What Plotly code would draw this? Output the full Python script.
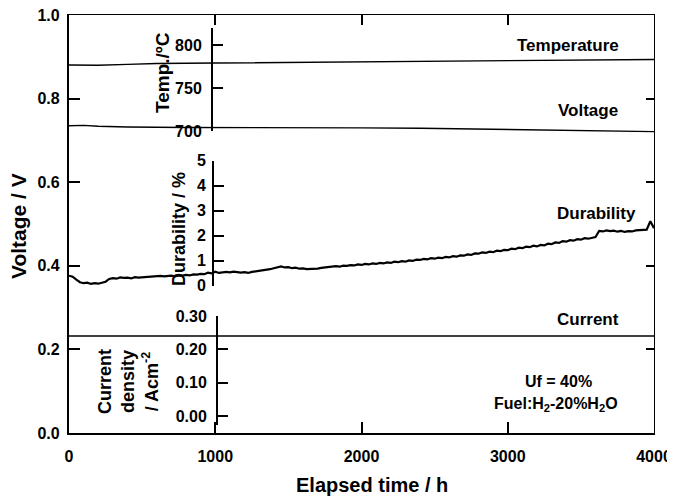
import plotly.graph_objects as go

# ---------------- data ----------------
hours_v = [0, 100, 200, 400, 800, 1200, 1600, 2000, 2400, 2800, 3200, 3600, 4000]
voltage = [0.735, 0.736, 0.734, 0.732, 0.731, 0.731, 0.731, 0.730, 0.729, 0.727, 0.725, 0.723, 0.721]

hours_t = [0, 200, 400, 600, 1000, 1400, 1800, 2200, 2600, 3000, 3400, 3800, 4000]
temperature = [776.8, 776.5, 777.5, 778.5, 779.0, 779.5, 780.0, 780.5, 781.0, 781.8, 782.5, 783.0, 783.2]

hours_c = [0, 1000, 2000, 3000, 4000]
current = [0.24, 0.24, 0.24, 0.24, 0.24]

hours_d = list(range(0, 4001, 25))
durability = [
    0.40, 0.36, 0.24, 0.14, 0.10, 0.12, 0.07, 0.10, 0.08, 0.13,
    0.16, 0.27, 0.30, 0.28, 0.33, 0.31, 0.32, 0.29, 0.34, 0.32,
    0.33, 0.36, 0.34, 0.37, 0.36, 0.39, 0.37, 0.38, 0.40, 0.37,
    0.41, 0.40, 0.43, 0.41, 0.45, 0.44, 0.47, 0.46, 0.52, 0.49,
    0.56, 0.51, 0.53, 0.55, 0.53, 0.56, 0.54, 0.52, 0.54, 0.51,
    0.55, 0.57, 0.61, 0.60, 0.64, 0.66, 0.70, 0.74, 0.77, 0.73,
    0.74, 0.70, 0.72, 0.68, 0.69, 0.66, 0.67, 0.65, 0.68, 0.71,
    0.73, 0.76, 0.75, 0.78, 0.76, 0.80, 0.79, 0.82, 0.81, 0.85,
    0.83, 0.87, 0.85, 0.89, 0.87, 0.91, 0.89, 0.93, 0.91, 0.96,
    0.94, 0.98, 0.96, 1.01, 0.99, 1.04, 1.03, 1.07, 1.05, 1.10,
    1.08, 1.12, 1.10, 1.15, 1.13, 1.18, 1.16, 1.21, 1.20, 1.25,
    1.23, 1.29, 1.28, 1.33, 1.31, 1.36, 1.34, 1.40, 1.38, 1.43,
    1.42, 1.48, 1.46, 1.52, 1.50, 1.56, 1.54, 1.60, 1.57, 1.63,
    1.61, 1.68, 1.66, 1.73, 1.71, 1.78, 1.76, 1.82, 1.80, 1.86,
    1.84, 1.90, 1.88, 1.93, 1.95, 2.19, 2.17, 2.21, 2.18, 2.20,
    2.16, 2.19, 2.15, 2.18, 2.17, 2.21, 2.22, 2.26, 2.24, 2.58,
    2.30,
]

x_ticks = [0, 1000, 2000, 3000, 4000]
v_ticks = [0.0, 0.2, 0.4, 0.6, 0.8, 1.0]
t_ticks = [700, 750, 800]
d_ticks = [0, 1, 2, 3, 4, 5]
c_ticks = [0.00, 0.10, 0.20, 0.30]

# ---------------- layout geometry (page pixels) ----------------
OFF = 8                       # default page body margin
W, H = 675 - OFF, 496 - OFF   # figure size
PL, PR, PT, PB = 69, 654, 15, 433   # plot area in page pixels
L, T = PL - OFF, PT - OFF
R, B = W - (PR - OFF), H - (PB - OFF)
PW, PH = PR - PL, PB - PT


def px(xp):
    return (xp - PL) / PW


def py(yp):
    return (PB - yp) / PH


FONT = "Liberation Sans, Arial, sans-serif"
BLACK = "#000000"

fig = go.Figure()

line_style = dict(color=BLACK, width=1.4)
fig.add_trace(go.Scatter(x=hours_t, y=temperature, mode="lines", line=line_style,
                         xaxis="x", yaxis="y3", hoverinfo="skip"))
fig.add_trace(go.Scatter(x=hours_v, y=voltage, mode="lines", line=line_style,
                         xaxis="x", yaxis="y", hoverinfo="skip"))
fig.add_trace(go.Scatter(x=hours_d, y=durability, mode="lines",
                         line=dict(color=BLACK, width=2.2),
                         xaxis="x", yaxis="y4", hoverinfo="skip"))
fig.add_trace(go.Scatter(x=hours_c, y=current, mode="lines", line=line_style,
                         xaxis="x", yaxis="y5", hoverinfo="skip"))
# invisible trace to activate the mirrored (top/right) frame axes
fig.add_trace(go.Scatter(x=hours_c[:1], y=voltage[:1], mode="markers",
                         marker=dict(opacity=0), xaxis="x2", yaxis="y2",
                         hoverinfo="skip"))

tickfont = dict(family=FONT, size=16, color=BLACK, weight="bold")

common = dict(showgrid=False, zeroline=False, showline=True, linecolor=BLACK,
              ticks="inside", tickcolor=BLACK, automargin=False,
              ticklabeloverflow="allow")

fig.update_layout(
    width=W, height=H,
    margin=dict(l=L, r=R, t=T, b=B, pad=0, autoexpand=False),
    paper_bgcolor="white", plot_bgcolor="rgba(0,0,0,0)",
    showlegend=False,
    font=dict(family=FONT, color=BLACK),
    xaxis=dict(**common, range=[0, 4000], tickvals=x_ticks, linewidth=2.2,
               ticklen=11, tickwidth=2, tickfont=tickfont, anchor="y",
               ticklabelstandoff=8),
    yaxis=dict(**common, range=[0, 1.0], tickvals=v_ticks, tickformat=".1f",
               linewidth=2.2, ticklen=11, tickwidth=2, tickfont=tickfont,
               anchor="x", ticklabelstandoff=4),
    xaxis2=dict(**{**common, "linewidth": 1}, range=[0, 4000], tickvals=x_ticks,
                overlaying="x", side="top", anchor="y", ticklen=10, tickwidth=2,
                showticklabels=False),
    yaxis2=dict(**{**common, "linewidth": 1}, range=[0, 1.0], tickvals=v_ticks,
                overlaying="y", side="right", anchor="x", ticklen=8, tickwidth=2,
                showticklabels=False),
    yaxis3=dict(**common, domain=[py(131), py(27.8)], range=[700, 820],
                tickvals=t_ticks, anchor="free", position=px(212), side="left",
                linewidth=2, ticklen=10, tickwidth=2, tickfont=tickfont,
                ticklabelstandoff=6),
    yaxis4=dict(**common, domain=[py(285.7), py(160.7)], range=[0, 5],
                tickvals=d_ticks, anchor="free", position=px(213), side="left",
                linewidth=2, ticklen=10, tickwidth=2, tickfont=tickfont,
                ticklabelstandoff=3),
    yaxis5=dict(**common, domain=[py(425), py(316)], range=[-0.027, 0.30],
                tickvals=c_ticks, tickformat=".2f", anchor="free",
                position=px(217), side="left", linewidth=2, ticklen=10,
                tickwidth=2, tickfont=tickfont, ticklabelstandoff=6),
)


def label(text, x, y, size=17, angle=0, weight="bold", align="center"):
    fig.add_annotation(text=text, x=px(x), y=py(y), xref="paper", yref="paper",
                       showarrow=False, textangle=angle, align=align,
                       xanchor="center", yanchor="middle",
                       font=dict(family=FONT, size=size, color=BLACK, weight=weight))


label("Voltage / V", 18, 226, size=21, angle=-90)
label("Elapsed time / h", 372, 485, size=20)
label("Temp./ºC", 163, 73, size=19, angle=-90)
label("Durability / %", 179, 229, size=18, angle=-90)
label("Current<br>density<br>/ Acm<sup>-2</sup>", 128, 382, size=18, angle=-90)

label("Temperature", 568, 45, size=17)
label("Voltage", 588, 110, size=17)
label("Durability", 596, 213, size=17)
label("Current", 588, 319, size=17)
label("Uf = 40%", 558, 381, size=16)
label("Fuel:H<sub>2</sub>-20%H<sub>2</sub>O", 556, 404, size=16)

fig.write_html("out.html")
